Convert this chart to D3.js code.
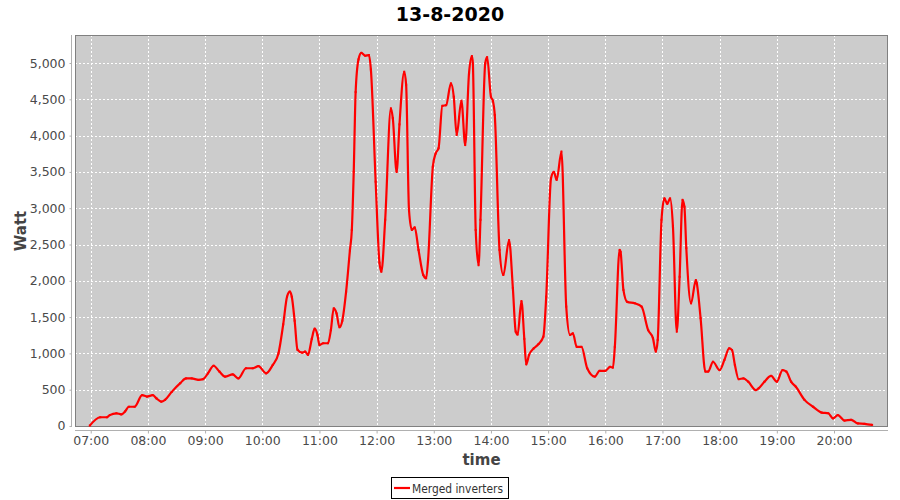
<!DOCTYPE html>
<html><head><meta charset="utf-8">
<script src="https://cdn.jsdelivr.net/npm/d3@7"></script>
<style>body{margin:0;background:#fff;}svg{display:block;}</style>
</head><body>
<svg id="c" width="900" height="500"></svg>
<script>
const title = "13-8-2020";
const seriesName = "Merged inverters";
const times = ["06:59","07:10","07:17","07:20","07:27","07:32","07:36","07:40","07:46","07:54","07:59","08:05","08:09","08:14","08:18","08:25","08:34","08:40","08:46","08:53","08:58","09:03","09:09","09:15","09:21","09:29","09:35","09:43","09:50","09:56","10:04","10:11","10:17","10:22","10:26","10:29","10:31","10:34","10:37","10:42","10:45","10:48","10:52","10:55","10:58","11:00","11:04","11:09","11:12","11:15","11:18","11:21","11:24","11:28","11:32","11:34","11:36","11:38","11:41","11:44","11:48","11:52","11:54","11:59","12:03","12:05","12:09","12:15","12:17","12:21","12:24","12:29","12:31","12:34","12:37","12:40","12:44","12:49","12:52","12:54","12:59","13:02","13:05","13:09","13:13","13:18","13:21","13:24","13:29","13:33","13:37","13:40","13:41","13:44","13:47","13:49","13:54","13:56","14:00","14:02","14:04","14:09","14:13","14:19","14:23","14:26","14:28","14:32","14:35","14:37","14:40","14:45","14:50","14:55","14:58","15:03","15:06","15:09","15:14","15:19","15:23","15:26","15:30","15:35","15:41","15:49","15:54","16:00","16:05","16:08","16:10","16:15","16:16","16:19","16:23","16:31","16:38","16:45","16:50","16:53","16:55","16:59","17:02","17:05","17:08","17:11","17:15","17:18","17:21","17:23","17:25","17:30","17:35","17:36","17:40","17:45","17:48","17:53","18:00","18:05","18:10","18:13","18:16","18:20","18:25","18:30","18:38","18:41","18:47","18:54","19:00","19:06","19:10","19:15","19:20","19:29","19:38","19:47","19:54","19:59","20:04","20:11","20:18","20:25","20:32","20:40"];
const watts = [5,120,120,150,175,160,200,265,265,425,405,425,380,335,360,470,590,655,655,635,645,725,830,750,680,710,655,795,795,825,725,840,1000,1400,1780,1850,1780,1450,1050,1010,1025,980,1200,1340,1250,1115,1140,1140,1320,1620,1550,1360,1450,1850,2420,2700,3500,4600,5050,5140,5100,5110,4910,3365,2250,2125,2840,4375,4240,3500,4155,4880,4700,2975,2700,2735,2425,2080,2035,2285,3570,3755,3825,4410,4420,4720,4535,4010,4480,3870,4860,5095,4995,2700,2215,2840,4995,5080,4535,4480,4285,2425,2080,2560,1900,1300,1260,1720,1200,850,980,1070,1130,1230,1780,3410,3500,3390,3780,1645,1255,1275,1090,1090,795,680,760,760,815,805,1090,2425,2400,1875,1710,1690,1645,1320,1210,1025,1185,2840,3135,3060,3135,2745,1300,2055,3115,3020,2450,1690,2010,1965,1485,750,750,885,770,910,1070,1045,840,645,655,610,495,520,610,690,610,770,750,610,540,360,265,185,175,105,150,75,85,35,30,15];
const yTicks = [0,500,1000,1500,2000,2500,3000,3500,4000,4500,5000];
const xTickLabels = ["07:00","08:00","09:00","10:00","11:00","12:00","13:00","14:00","15:00","16:00","17:00","18:00","19:00","20:00"];

const toDate = s => { const [h,m] = s.split(":").map(Number); return new Date(2020,7,13,h,m); };
const data = times.map((t,i)=>({t:toDate(t), v:watts[i]}));

const svg = d3.select("#c");
const L=75, R=888, T=35, B=427;
const x = d3.scaleTime().domain([new Date(2020,7,13,6,43,30), new Date(2020,7,13,20,56,40)]).range([L,R]);
const y = d3.scaleLinear().domain([-14, 5386]).range([B,T]);

svg.append("text").attr("x",450).attr("y",21).attr("text-anchor","middle")
  .attr("font-family","DejaVu Sans, sans-serif").attr("font-weight","bold").attr("font-size",19).attr("fill","#000").text(title);

svg.append("rect").attr("x",L).attr("y",T).attr("width",R-L).attr("height",B-T).attr("fill","#cccccc");

const xt = xTickLabels.map(toDate);
// grid
svg.append("g").selectAll("line").data(xt).join("line")
  .attr("x1",d=>Math.round(x(d))+0.5).attr("x2",d=>Math.round(x(d))+0.5).attr("y1",T).attr("y2",B)
  .attr("stroke","#ffffff").attr("stroke-dasharray","2,2").attr("stroke-width",1);
svg.append("g").selectAll("line").data(yTicks).join("line")
  .attr("y1",d=>Math.round(y(d))+0.5).attr("y2",d=>Math.round(y(d))+0.5).attr("x1",L).attr("x2",R)
  .attr("stroke","#ffffff").attr("stroke-dasharray","2,2").attr("stroke-width",1);

// plot border
svg.append("rect").attr("x",L+0.5).attr("y",T+0.5).attr("width",R-L-1).attr("height",B-T-1)
  .attr("fill","none").attr("stroke","#808080").attr("stroke-width",1);

// axes
const yAxis = d3.axisLeft(y).tickValues(yTicks).tickFormat(d3.format(",")).tickSize(2).tickPadding(4);
const gy = svg.append("g").attr("transform",`translate(${L-3.5},0)`).call(yAxis);
gy.select(".domain").attr("d",`M0,${T}V${B}`).attr("stroke","#b0b0b0");
gy.selectAll(".tick line").attr("stroke","#b0b0b0");
gy.selectAll(".tick text").attr("font-family","DejaVu Sans, sans-serif").attr("font-size",12.5).attr("fill","#4a4a4a");

const xAxis = d3.axisBottom(x).tickValues(xt).tickFormat(d3.timeFormat("%H:%M")).tickSize(3).tickPadding(3);
const gx = svg.append("g").attr("transform",`translate(0,${B+3.5})`).call(xAxis);
gx.select(".domain").attr("d",`M${L},0H${R}`).attr("stroke","#b0b0b0");
gx.selectAll(".tick line").attr("stroke","#b0b0b0");
gx.selectAll(".tick text").attr("font-family","DejaVu Sans, sans-serif").attr("font-size",12.5).attr("fill","#4a4a4a");

// axis labels
svg.append("text").attr("transform","translate(26,231) rotate(-90)").attr("text-anchor","middle")
  .attr("font-family","DejaVu Sans, sans-serif").attr("font-weight","bold").attr("font-size",15).attr("fill","#444").text("Watt");
svg.append("text").attr("x",(L+R)/2).attr("y",465).attr("text-anchor","middle")
  .attr("font-family","DejaVu Sans, sans-serif").attr("font-weight","bold").attr("font-size",15).attr("fill","#444").text("time");

// line
const line = d3.line().x(d=>x(d.t)).y(d=>y(d.v)).curve(d3.curveMonotoneX);
svg.append("path").datum(data).attr("d",line).attr("fill","none").attr("stroke","#ff0000").attr("stroke-width",2.2).attr("stroke-linejoin","round");
svg.append("g").selectAll("rect").data(data).join("rect")
  .attr("x",d=>x(d.t)-1).attr("y",d=>y(d.v)-1).attr("width",2).attr("height",2).attr("fill","#ff0000");

// legend
const lg = svg.append("g");
lg.append("rect").attr("x",391.5).attr("y",477.5).attr("width",117).attr("height",21).attr("fill","#fff").attr("stroke","#000");
lg.append("line").attr("x1",394).attr("x2",410).attr("y1",488).attr("y2",488).attr("stroke","#ff0000").attr("stroke-width",2.2);
lg.append("rect").attr("x",401).attr("y",487).attr("width",2).attr("height",2).attr("fill","#ff0000");
lg.append("text").attr("x",412).attr("y",492.5).attr("font-family","DejaVu Sans, sans-serif").attr("font-size",12)
  .attr("textLength",91).attr("lengthAdjust","spacingAndGlyphs").attr("fill","#333").text(seriesName);
</script>
</body></html>
